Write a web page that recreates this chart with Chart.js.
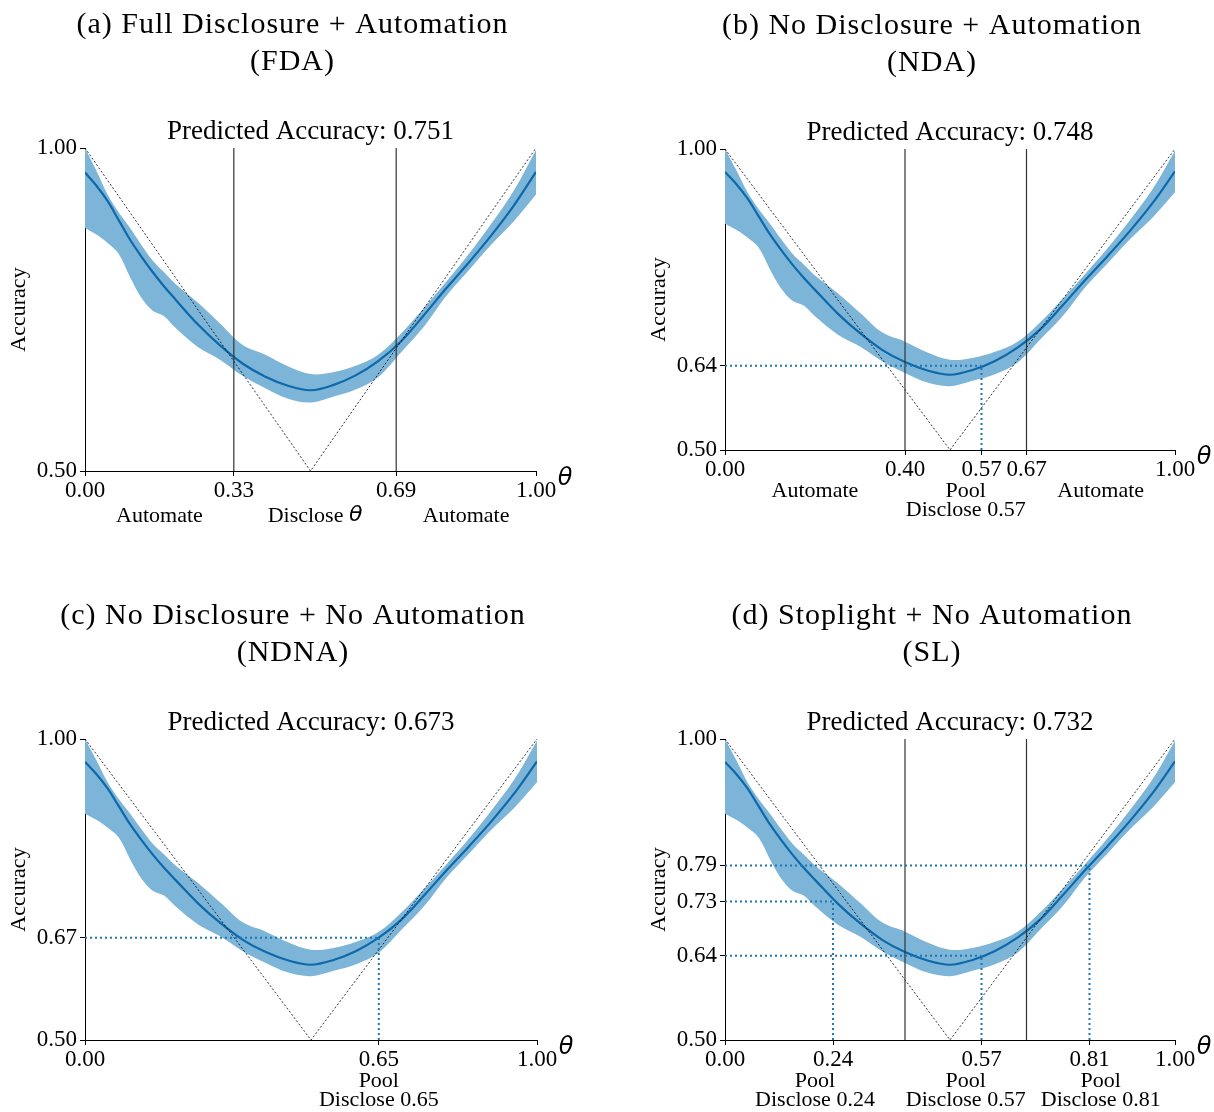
<!DOCTYPE html>
<html>
<head>
<meta charset="utf-8">
<script src="https://cdn.jsdelivr.net/npm/chart.js@4/dist/chart.umd.min.js"></script>
<style>
  body { margin: 0; background: #fff; }
  #wrap { position: relative; width: 1214px; height: 1112px; }
  canvas { position: absolute; }
</style>
</head>
<body>
<div id="wrap"></div>
<script>
// threshold grid and the fitted accuracy curve (same model in all four panels)
const theta    = [0, 0.025, 0.05, 0.075, 0.1, 0.125, 0.15, 0.175, 0.2, 0.25, 0.3, 0.35, 0.4, 0.45, 0.5, 0.55, 0.6, 0.65, 0.7, 0.75, 0.8, 0.85, 0.9, 0.95, 1.0];
const accMean  = [0.962, 0.942, 0.918, 0.888, 0.858, 0.832, 0.808, 0.786, 0.766, 0.727, 0.694, 0.666, 0.646, 0.632, 0.625, 0.633, 0.648, 0.670, 0.700, 0.740, 0.782, 0.822, 0.864, 0.910, 0.963];
const accUpper = [1.000, 0.965, 0.928, 0.900, 0.876, 0.850, 0.826, 0.808, 0.790, 0.761, 0.728, 0.695, 0.680, 0.662, 0.650, 0.653, 0.663, 0.680, 0.712, 0.751, 0.792, 0.835, 0.882, 0.933, 0.997];
const accLower = [0.876, 0.866, 0.853, 0.836, 0.800, 0.768, 0.748, 0.740, 0.722, 0.692, 0.672, 0.647, 0.628, 0.612, 0.606, 0.615, 0.626, 0.645, 0.683, 0.722, 0.770, 0.810, 0.850, 0.886, 0.928];

// per panel
const titles = [
  ['(a) Full Disclosure + Automation', '(FDA)'],
  ['(b) No Disclosure + Automation', '(NDA)'],
  ['(c) No Disclosure + No Automation', '(NDNA)'],
  ['(d) Stoplight + No Automation', '(SL)']
];
const predictedAcc = [0.751, 0.748, 0.673, 0.732];
const xTicks = [[0, 0.33, 0.69, 1], [0, 0.40, 0.57, 0.67, 1], [0, 0.65, 1], [0, 0.24, 0.57, 0.81, 1]];
const yTicks = [[0.5, 1], [0.5, 0.64, 1], [0.5, 0.67, 1], [0.5, 0.64, 0.73, 0.79, 1]];
const cutoffs = [[0.33, 0.69], [0.40, 0.67], [], [0.40, 0.67]];
const poolTheta = [[], [0.57], [0.65], [0.24, 0.57, 0.81]];
const poolAcc   = [[], [0.64], [0.67], [0.73, 0.64, 0.79]];
const regionText = [
  [['Automate'], ['Disclose ', 'θ'], ['Automate']],
  [['Automate'], ['Pool', 'Disclose 0.57'], ['Automate']],
  [['Pool', 'Disclose 0.65']],
  [['Pool', 'Disclose 0.24'], ['Pool', 'Disclose 0.57'], ['Pool', 'Disclose 0.81']]
];

// page layout (plot areas in page pixels)
const boxes = [
  {l: 85, t: 148, r: 536, b: 471},
  {l: 725, t: 149, r: 1175, b: 450},
  {l: 85, t: 739, r: 537, b: 1040},
  {l: 725, t: 739, r: 1175, b: 1040}
];
const CW = 607, CH = 556, YW = 80, XH = 40;
const SERIF = '"Liberation Serif", "Times New Roman", serif';
const BAND = '#7db5d9', LINE = '#0e69aa', DOT = '#1f77b4';

const textPlugin = {
  id: 'panelText',
  afterDraw(chart, args, o) {
    const {ctx, chartArea: a} = chart;
    const x = chart.scales.x;
    const i = o.idx;
    const cx = (a.left + a.right) / 2;
    ctx.save();
    ctx.fillStyle = '#000';
    ctx.textAlign = 'center';
    ctx.textBaseline = 'middle';
    ctx.font = '30px ' + SERIF;
    ctx.letterSpacing = '1px';
    ctx.fillText(titles[i][0], cx - 18, a.top - 123);
    ctx.fillText(titles[i][1], cx - 18, a.top - 86);
    ctx.letterSpacing = '0px';
    ctx.font = '27px ' + SERIF;
    ctx.fillText('Predicted Accuracy: ' + predictedAcc[i].toFixed(3), cx, a.top - 16);

    // y label
    ctx.save();
    ctx.font = '22px ' + SERIF;
    ctx.translate(a.left - 66, (a.top + a.bottom) / 2);
    ctx.rotate(-Math.PI / 2);
    ctx.fillText('Accuracy', 0, 0);
    ctx.restore();

    // theta at end of x axis
    ctx.font = 'italic 24px "DejaVu Sans", sans-serif';
    ctx.fillText('θ', a.right + 29, a.bottom + 8);

    // region labels under the axis
    const edges = [0].concat(cutoffs[i], [1]);
    const single = regionText[i].length === 1;
    const y0 = a.bottom + (i === 0 ? 45 : 41);
    regionText[i].forEach((lines, k) => {
      const t = single ? poolTheta[i][0] : (edges[k] + edges[k + 1]) / 2;
      const px = x.getPixelForValue(t);
      if (lines[1] === 'θ') {
        ctx.font = '22px ' + SERIF;
        const w1 = ctx.measureText(lines[0]).width;
        ctx.font = 'italic 22px "DejaVu Sans", sans-serif';
        const w2 = ctx.measureText('θ').width;
        const sx = px - (w1 + w2) / 2;
        ctx.textAlign = 'left';
        ctx.font = '22px ' + SERIF;
        ctx.fillText(lines[0], sx, y0);
        ctx.font = 'italic 22px "DejaVu Sans", sans-serif';
        ctx.fillText('θ', sx + w1, y0 - 1);
        ctx.textAlign = 'center';
      } else {
        ctx.font = '22px ' + SERIF;
        lines.forEach((s, j) => ctx.fillText(s, px, y0 + j * 19));
      }
    });
    ctx.restore();
  }
};

const wrap = document.getElementById('wrap');
boxes.forEach((bx, i) => {
  const left = (i % 2) * CW, top = Math.floor(i / 2) * CH;
  const cv = document.createElement('canvas');
  cv.width = CW; cv.height = CH;
  cv.style.left = left + 'px'; cv.style.top = top + 'px';
  wrap.appendChild(cv);

  const pts = (ys) => theta.map((t, k) => ({x: t, y: ys[k]}));
  const ds = [];
  ds.push({data: pts(accUpper), borderWidth: 0, backgroundColor: BAND, fill: '+1', tension: 0.35, pointRadius: 0, order: 10});
  ds.push({data: pts(accLower), borderWidth: 0, fill: false, tension: 0.35, pointRadius: 0, order: 11});
  ds.push({data: pts(accMean), borderColor: LINE, borderWidth: 2.2, fill: false, tension: 0.35, pointRadius: 0, order: 5});
  ds.push({data: [{x: 0, y: 1}, {x: 0.5, y: 0.5}, {x: 1, y: 1}], borderColor: '#000', borderWidth: 0.8,
           borderDash: [2, 2], fill: false, tension: 0, pointRadius: 0, order: 4});
  cutoffs[i].forEach(c => ds.push({data: [{x: c, y: 0.5}, {x: c, y: 1}], borderColor: '#333', borderWidth: 1.2,
           fill: false, pointRadius: 0, order: 3}));
  poolTheta[i].forEach((t, k) => {
    const v = poolAcc[i][k];
    ds.push({data: [{x: 0, y: v}, {x: t, y: v}], borderColor: DOT, borderWidth: 2, borderDash: [2, 3],
             fill: false, pointRadius: 0, order: 2});
    ds.push({data: [{x: t, y: 0.5}, {x: t, y: v}], borderColor: DOT, borderWidth: 2, borderDash: [2, 3],
             fill: false, pointRadius: 0, order: 2});
  });

  const tickFont = {family: SERIF, size: 23};
  new Chart(cv, {
    type: 'line',
    data: {datasets: ds},
    plugins: [textPlugin],
    options: {
      responsive: false,
      animation: false,
      events: [],
      layout: {padding: {
        left: bx.l - left - YW,
        right: left + CW - bx.r,
        top: bx.t - top,
        bottom: top + CH - bx.b - XH
      }},
      plugins: {legend: {display: false}, tooltip: {enabled: false}, panelText: {idx: i}},
      scales: {
        x: {
          type: 'linear', min: 0, max: 1,
          afterFit: s => { s.height = XH; },
          afterBuildTicks: s => { s.ticks = xTicks[i].map(v => ({value: v})); },
          ticks: {color: '#000', font: tickFont, padding: 1, autoSkip: false, maxRotation: 0,
                  callback: v => Number(v).toFixed(2)},
          grid: {drawOnChartArea: false, drawTicks: true, tickLength: 5, color: '#000'},
          border: {display: true, color: '#000', width: 1}
        },
        y: {
          type: 'linear', min: 0.5, max: 1,
          afterFit: s => { s.width = YW; },
          afterBuildTicks: s => { s.ticks = yTicks[i].map(v => ({value: v})); },
          ticks: {color: '#000', font: tickFont, padding: 3, autoSkip: false,
                  callback: v => Number(v).toFixed(2)},
          grid: {drawOnChartArea: false, drawTicks: true, tickLength: 5, color: '#000'},
          border: {display: true, color: '#000', width: 1}
        }
      }
    }
  });
});
</script>
</body>
</html>
